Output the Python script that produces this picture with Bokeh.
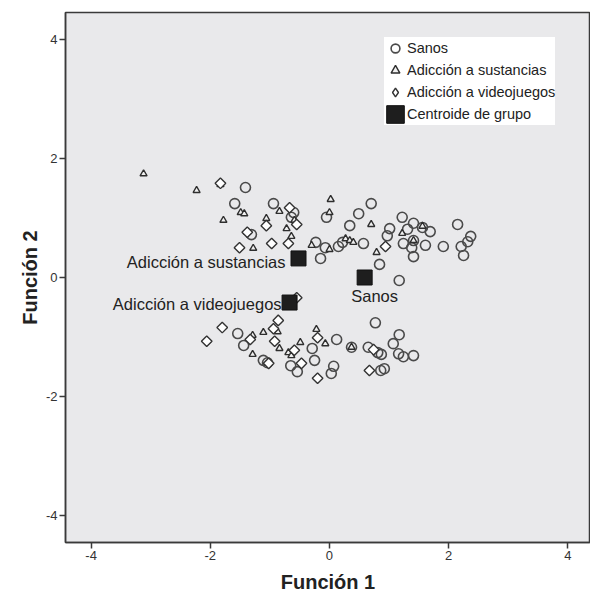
import numpy as np
from bokeh.plotting import figure
from bokeh.models import Legend, LegendItem, FixedTicker, Range1d, ColumnDataSource
from bokeh.core.properties import value
from bokeh.embed import file_html
from bokeh.resources import INLINE

# ---------------- data ----------------
sanos_x = [-1.41, -1.59, -0.94, -0.60, -0.64, -1.31, -0.05, 0.70, 0.49, 0.34,
           1.01, 0.97, 1.22, 1.41, 1.56, 1.69, 1.31, 2.15, 1.41, 1.24,
           1.38, 1.61, 1.91, 2.37, 2.32, 2.21, 2.25, 1.41, 0.84, 1.17,
           -0.23, -0.07, -0.15, 0.15, 0.22, 0.57,
           -1.54, -1.44, -1.11, -1.04, -0.29, -0.25, -0.65, -0.54, 0.12, 0.07,
           0.03, 0.37, 0.77, 0.65, 0.81, 0.87, 1.17, 1.07, 1.16, 1.24,
           1.41, 0.86, 0.92]
sanos_y = [1.51, 1.24, 1.24, 1.09, 1.01, 0.72, 1.01, 1.24, 1.07, 0.87,
           0.82, 0.70, 1.01, 0.91, 0.84, 0.77, 0.81, 0.89, 0.62, 0.57,
           0.50, 0.54, 0.52, 0.69, 0.60, 0.52, 0.37, 0.35, 0.22, -0.05,
           0.59, 0.50, 0.32, 0.52, 0.59, 0.57,
           -0.94, -1.14, -1.39, -1.43, -1.19, -1.39, -1.48, -1.58, -1.04, -1.49,
           -1.61, -1.17, -0.76, -1.17, -1.26, -1.29, -0.96, -1.11, -1.28, -1.33,
           -1.31, -1.56, -1.53]

sust_x = [-3.12, -2.23, -1.83, -1.49, -1.43, -1.78, -0.84, -1.06, -0.59, -0.72,
          -0.64, -1.28, 0.02, 0.00, -0.30, 0.00, 0.27, 0.34, 0.40, 0.70,
          1.22, 0.79, 1.56, 1.41, -1.38,
          -1.29, -1.11, -0.87, -0.84, -1.29, -0.69, -0.64, -0.49, -0.22, -0.07, 0.37]
sust_y = [1.74, 1.46, 1.56, 1.09, 1.07, 0.96, 1.11, 0.99, 0.96, 0.82,
          0.69, 0.49, 1.31, 1.09, 0.54, 0.47, 0.65, 0.62, 0.59, 0.89,
          0.74, 0.42, 0.86, 0.62, 0.76,
          -0.97, -0.92, -0.91, -1.19, -1.29, -1.26, -1.31, -1.09, -0.87, -1.11, -1.17]

video_x = [-1.83, -0.67, -0.55, -1.06, -0.97, -0.69, -1.38, -1.51, 0.94, -0.55,
           -1.80, -2.06, -1.33, -0.94, -0.86, -0.92, -1.02, -0.59, -0.47, -0.20,
           -0.20, 0.74, 0.67]
video_y = [1.58, 1.17, 0.89, 0.87, 0.57, 0.57, 0.76, 0.50, 0.52, -0.34,
           -0.84, -1.07, -1.04, -0.86, -0.72, -1.07, -1.44, -1.22, -1.44, -1.01,
           -1.69, -1.21, -1.56]

centroid_x = [0.59, -0.52, -0.67]
centroid_y = [0.00, 0.32, -0.42]
centroid_labels = ["Sanos", "Adicción a sustancias", "Adicción a videojuegos"]

legend_labels = ["Sanos", "Adicción a sustancias", "Adicción a videojuegos",
                 "Centroide de grupo"]
x_ticks = [-4, -2, 0, 2, 4]
y_ticks = [-4, -2, 0, 2, 4]
x_title = "Función 1"
y_title = "Función 2"

# ---------------- figure ----------------
FONT = "Liberation Sans"
p = figure(width=590, height=598,
           x_range=Range1d(-4.43, 4.38), y_range=Range1d(-4.446, 4.446),
           output_backend="svg", toolbar_location=None,
           min_border_left=65, min_border_top=12, min_border_bottom=56,
           min_border_right=0)
p.background_fill_color = "#e9e9eb"
p.border_fill_color = "white"
p.outline_line_color = "#3a3a3a"
p.outline_line_width = 1.5
p.xgrid.visible = False
p.ygrid.visible = False

for ax, ticks, title in ((p.xaxis[0], x_ticks, x_title), (p.yaxis[0], y_ticks, y_title)):
    ax.ticker = FixedTicker(ticks=ticks)
    ax.major_label_overrides = {t: str(t) for t in ticks}
    ax.axis_label = title
    ax.axis_label_text_font = FONT
    ax.axis_label_text_font_style = "bold"
    ax.axis_label_text_font_size = "20px"
    ax.axis_label_text_color = "#222222"
    ax.major_label_text_font = FONT
    ax.major_label_text_font_size = "13px"
    ax.major_label_text_color = "#333333"
    ax.major_tick_in = 0
    ax.major_tick_out = 6
    ax.major_tick_line_color = "#3a3a3a"
    ax.major_tick_line_width = 1.5
    ax.minor_tick_line_color = None
    ax.axis_line_color = "#3a3a3a"
    ax.axis_line_width = 1.5
    ax.major_label_standoff = 2
p.xaxis[0].axis_label_standoff = 8
p.yaxis[0].axis_label_standoff = 2

r_sanos = p.scatter(sanos_x, sanos_y, marker="circle", size=10,
                    line_color="#4a4a4a", line_width=1.6, fill_color=None)
r_sust = p.scatter(sust_x, sust_y, marker="triangle", size=7,
                   line_color="#2e2e2e", line_width=1.4, fill_color="#f0f0f0")
# diamond swatch used by the legend (legend glyphs are drawn unrotated);
# it sits hidden underneath the rotated-square markers below
r_video_key = p.scatter(video_x, video_y, marker="diamond", size=8,
                        line_color="#333333", line_width=1.4, fill_color="white")
r_video = p.scatter(video_x, video_y, marker="square", angle=np.pi / 4, size=7.5,
                    line_color="#333333", line_width=1.4, fill_color="white")

csrc = ColumnDataSource(dict(x=centroid_x, y=centroid_y, label=centroid_labels,
                             dx=[10, -13, -8], dy=[18, 4, 1],
                             align=["center", "right", "right"]))
r_cent = p.rect("x", "y", width=15, height=15, width_units="screen",
                height_units="screen", source=csrc,
                fill_color="#1e1e1e", line_color="#111111", line_width=1)
p.text("x", "y", text="label", source=csrc, x_offset="dx", y_offset="dy",
       text_align="align", text_baseline="middle",
       text_font=value(FONT), text_font_size="16.5px", text_color="#222222")

legend = Legend(items=[LegendItem(label=legend_labels[0], renderers=[r_sanos]),
                       LegendItem(label=legend_labels[1], renderers=[r_sust]),
                       LegendItem(label=legend_labels[2], renderers=[r_video_key]),
                       LegendItem(label=legend_labels[3], renderers=[r_cent])],
                location=(319, 417))
legend.glyph_width = 22
legend.glyph_height = 22
legend.label_height = 22
legend.spacing = -3
legend.padding = 4
legend.margin = 0
legend.label_standoff = 1
legend.label_text_font = FONT
legend.label_text_font_size = "14.5px"
legend.label_text_color = "#222222"
legend.border_line_color = None
legend.background_fill_color = "white"
legend.background_fill_alpha = 1.0
p.add_layout(legend, "center")

open("out.html", "w").write(file_html(p, INLINE))
